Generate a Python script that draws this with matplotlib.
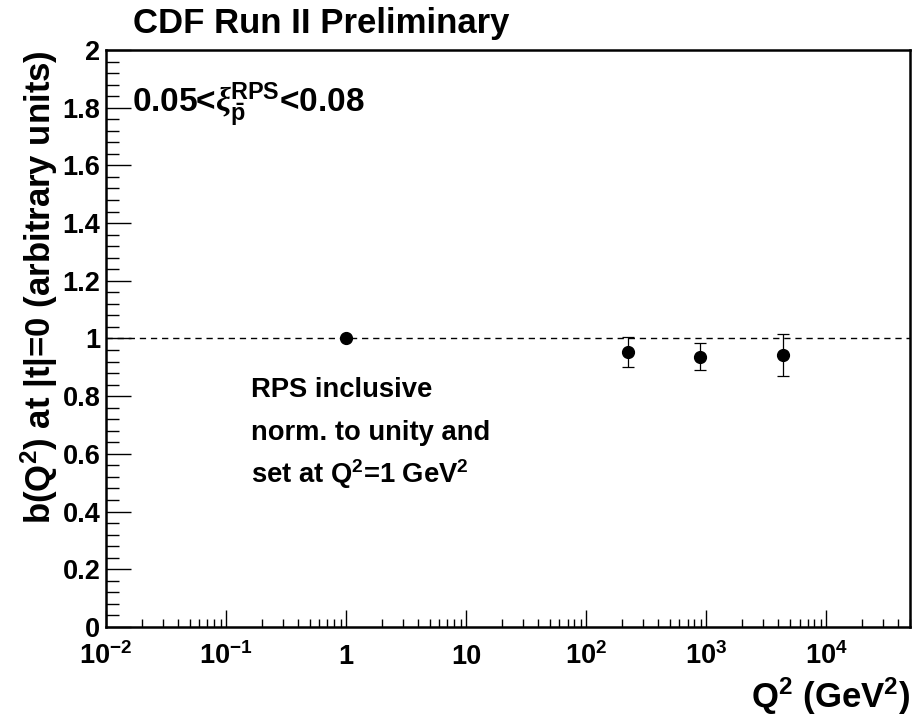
import matplotlib
matplotlib.use("Agg")
import matplotlib.pyplot as plt
from matplotlib.ticker import FixedLocator, FixedFormatter, MultipleLocator, FormatStrFormatter
import numpy as np

# data
q2 = [1.0, 225.0, 890.0, 4370.0]
b_val = [1.0, 0.954, 0.937, 0.943]
b_err = [0.0, 0.052, 0.047, 0.072]

xtick_pos = [1e-2, 1e-1, 1, 10, 1e2, 1e3, 1e4]
xtick_lab = [r"$10^{-2}$", r"$10^{-1}$", "1", "10", r"$10^{2}$", r"$10^{3}$", r"$10^{4}$"]

plt.rcParams["font.family"] = ["Liberation Sans", "DejaVu Sans"]
plt.rcParams["font.weight"] = "bold"
plt.rcParams["axes.labelweight"] = "bold"
plt.rcParams["mathtext.fontset"] = "custom"
plt.rcParams["mathtext.rm"] = "Liberation Sans:bold"
plt.rcParams["mathtext.bf"] = "Liberation Sans:bold"
plt.rcParams["mathtext.it"] = "Liberation Sans:italic:bold"
plt.rcParams["mathtext.sf"] = "Liberation Serif:italic"
plt.rcParams["mathtext.default"] = "rm"

fig = plt.figure(figsize=(9.22, 7.21), dpi=100)
ax = fig.add_axes([0.115, 0.1304, 0.872, 0.8003])

ax.axhline(1.0, color="black", lw=1.0, dashes=(4.5, 3.5))
ax.errorbar(q2, b_val, yerr=b_err, fmt="o", color="black", ms=8.5,
            elinewidth=0.9, capsize=4.5, capthick=0.9)

ax.set_xscale("log")
ax.set_xlim(1e-2, 5e4)
ax.set_ylim(0, 2)

ax.xaxis.set_major_locator(FixedLocator(xtick_pos))
ax.xaxis.set_major_formatter(FixedFormatter(xtick_lab))
ax.xaxis.set_minor_locator(matplotlib.ticker.LogLocator(base=10, subs=np.arange(2, 10), numticks=20))
ax.xaxis.set_minor_formatter(matplotlib.ticker.NullFormatter())
ax.yaxis.set_major_locator(MultipleLocator(0.2))
ax.yaxis.set_minor_locator(MultipleLocator(0.04))
ax.yaxis.set_major_formatter(FormatStrFormatter("%g"))

ax.tick_params(axis="both", which="both", direction="in", top=False, right=False, width=1.0)
ax.tick_params(axis="x", which="major", length=12, labelsize=19.5, pad=27)
ax.tick_params(axis="x", which="minor", length=6)
ax.tick_params(axis="y", which="major", length=18, labelsize=19.5, pad=4)
ax.tick_params(axis="y", which="minor", length=9)
for lab in ax.get_xticklabels():
    lab.set_verticalalignment("baseline")

for s in ax.spines.values():
    s.set_linewidth(1.8)

ax.set_xlabel(r"Q$^2$ (GeV$^2$)", fontsize=25, loc="right")
ax.xaxis.label.set_verticalalignment("baseline")
ax.xaxis.set_label_coords(1.0, -0.140)
ax.set_ylabel(r"b(Q$^2$) at |t|=0 (arbitrary units)", fontsize=25, loc="top")
ax.yaxis.set_label_coords(-0.057, 1.0)

fig.text(0.144, 0.954, "CDF Run II Preliminary", fontsize=25, ha="left", va="baseline")
ax.text(0.032, 0.893, r"0.05<$\mathsf{\xi}_{\bar{p}}^{RPS}$<0.08", transform=ax.transAxes,
        fontsize=24, ha="left", va="baseline")

notes = ["RPS inclusive", "norm. to unity and", r"set at Q$^2$=1 GeV$^2$"]
for i, line in enumerate(notes):
    ax.text(0.180, 0.399 - i * 0.0745, line, transform=ax.transAxes,
            fontsize=19.7, ha="left", va="baseline")

fig.savefig("out.png", dpi=100)
plt.close(fig)
